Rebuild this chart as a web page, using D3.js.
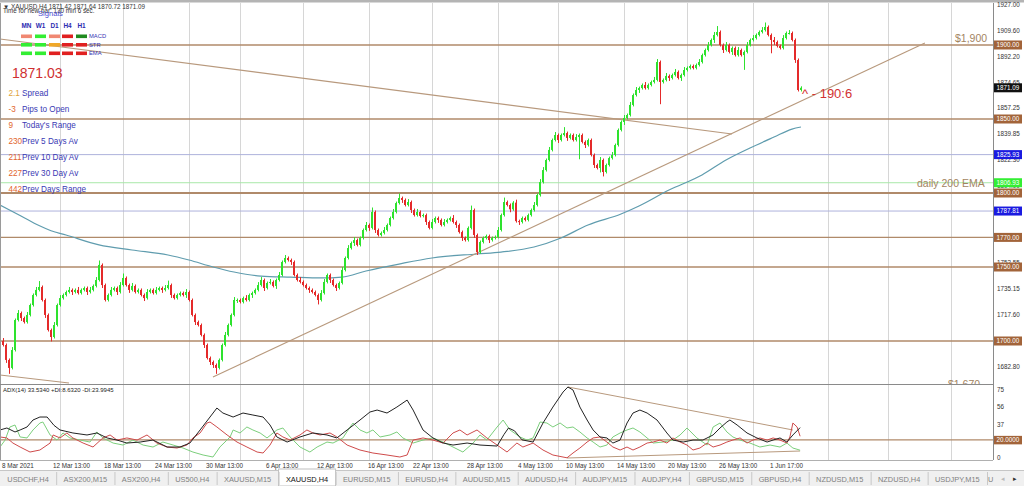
<!DOCTYPE html>
<html><head><meta charset="utf-8">
<script src="https://cdn.jsdelivr.net/npm/d3@7"></script>
<style>body{margin:0;background:#fff;overflow:hidden}svg{display:block;font-family:"Liberation Sans",Arial,sans-serif}</style>
</head><body><svg id="c" width="1024" height="486"></svg>
<script>
// ---------- DATA ----------
const firstOpen = 1700.0;
const closes = [
1697.3,1687.2,1681.8,1693.9,1714.2,1718.9,1715.5,1712.8,1717.6,1724.3,
1731.1,1734.5,1736.5,1727.7,1717.6,1707.4,1702.7,1710.8,1724.3,1729.0,
1731.1,1733.1,1734.5,1733.1,1734.5,1732.4,1734.5,1735.8,1733.1,1734.5,
1737.2,1741.2,1751.4,1737.8,1727.7,1731.1,1734.5,1735.8,1733.1,1737.8,
1742.6,1737.8,1734.5,1737.2,1733.1,1734.5,1731.1,1729.0,1733.1,1734.5,
1732.4,1734.5,1735.8,1734.5,1735.8,1737.8,1731.1,1729.0,1731.1,1732.4,
1731.1,1733.1,1727.7,1717.6,1712.8,1710.8,1704.1,1697.3,1688.5,1685.8,
1683.8,1681.8,1687.2,1697.3,1704.1,1710.8,1717.6,1727.7,1727.7,1726.4,
1729.0,1727.7,1731.1,1732.4,1734.5,1737.8,1741.2,1735.8,1739.2,1739.9,
1737.2,1741.2,1744.6,1753.4,1756.1,1754.7,1753.4,1744.6,1741.2,1739.9,
1737.8,1735.8,1734.5,1733.1,1731.1,1727.7,1732.4,1739.9,1744.6,1741.2,
1737.8,1735.8,1739.2,1748.0,1756.1,1762.8,1766.2,1768.2,1764.9,1769.6,
1775.0,1778.4,1776.4,1787.2,1775.0,1771.6,1773.0,1775.0,1778.4,1783.1,
1787.2,1793.2,1796.6,1795.3,1791.9,1793.9,1788.5,1785.1,1787.2,1784.5,
1785.1,1780.4,1776.4,1780.4,1783.1,1781.8,1778.4,1780.4,1781.8,1783.1,
1780.4,1778.4,1773.6,1769.6,1768.2,1776.4,1788.5,1771.6,1760.1,1766.9,
1769.6,1770.9,1768.2,1769.6,1770.3,1775.0,1785.1,1793.9,1791.9,1789.0,
1793.5,1781.0,1780.4,1783.1,1781.8,1785.1,1788.5,1791.9,1798.6,1807.4,
1815.5,1822.3,1829.1,1835.8,1839.2,1835.8,1839.2,1840.5,1837.2,1839.2,
1835.8,1837.8,1839.2,1834.5,1832.4,1835.8,1825.7,1818.9,1816.9,1822.3,
1814.2,1818.9,1823.6,1825.7,1832.4,1842.6,1848.0,1850.7,1852.7,1859.5,
1866.2,1869.6,1870.9,1873.0,1870.9,1873.0,1875.0,1876.4,1888.5,1875.0,
1876.4,1879.1,1877.7,1879.7,1881.8,1877.7,1879.7,1883.1,1884.5,1885.8,
1884.5,1886.5,1888.5,1893.2,1896.6,1900.0,1903.4,1906.8,1908.8,1900.0,
1896.6,1900.0,1895.3,1898.0,1893.2,1896.6,1893.2,1895.3,1900.0,1903.4,
1904.7,1906.8,1908.8,1910.1,1912.2,1906.8,1903.4,1902.0,1899.3,1898.0,
1904.7,1908.1,1908.1,1903.4,1889.9,1869.6,1871.09];
const upWick = [
2,1,1,2,1,2,1,1,2,1, 1,2,4,1,1,1,1,2,1,2, 1,1,2,1,1,2,1,1,1,2, 1,2,3,1,1,1,2,1,1,2,
3,1,1,2,1,1,1,1,2,1, 1,2,1,1,2,3,1,1,1,1, 1,2,1,1,1,1,1,1,1,1, 1,1,1,1,2,1,1,2,1,1,
1,2,1,1,1,2,2,1,1,2, 1,1,2,1,2,1,1,1,1,2, 1,1,1,1,1,1,2,2,1,1, 1,1,1,2,1,2,1,2,1,1,
1,2,1,3,1,1,1,2,1,1, 2,1,3,1,1,2,1,1,2,1, 1,1,1,2,1,1,1,2,1,1, 2,1,1,1,1,1,3,1,1,1,
1,1,1,1,1,2,1,3,1,1, 1,2,1,1,1,1,1,2,1,2, 2,1,2,1,2,1,1,4,1,1, 1,2,1,1,1,1,1,1,1,2,
1,1,1,2,1,1,1,2,1,2, 1,2,1,1,2,1,1,2,2,1, 1,2,1,1,2,1,1,2,1,1, 1,1,2,1,1,2,1,2,4,1,
1,2,1,1,1,2,1,1,2,1, 2,1,1,2,3,1,1,2,1,1, 2,1,2,1,1,1,1];
const dnWick = [
1,2,4,1,1,1,2,1,1,1, 1,1,1,1,2,1,3,1,1,1, 1,1,1,2,1,1,1,1,2,1, 1,1,1,2,1,1,1,1,2,1,
1,1,2,1,1,1,1,2,1,1, 1,1,1,2,1,1,2,1,1,1, 1,2,1,1,2,1,1,2,1,2, 2,4,1,1,1,1,1,1,2,1,
1,1,1,2,1,1,1,2,1,1, 1,2,1,1,1,1,2,1,1,1, 1,1,2,1,1,3,1,1,1,2, 1,2,1,1,1,1,1,2,1,1,
1,1,2,1,2,1,1,1,1,1, 1,1,1,2,1,1,2,1,1,1, 1,2,1,1,1,2,1,1,1,1, 1,2,1,2,1,1,1,2,2,1,
1,1,2,1,1,1,1,1,1,2, 1,1,2,1,1,1,1,1,1,1, 1,1,1,1,1,2,1,1,2,1, 1,1,15,1,2,1,1,2,1,3,
3,1,1,1,1,1,1,2,1,1, 1,1,2,1,1,1,1,1,1,15, 1,1,2,1,1,1,2,1,1,1, 1,1,1,1,1,1,1,2,1,1,
2,1,1,2,1,1,1,10,1,1, 1,1,1,1,1,1,9,2,1,1, 1,1,1,1,2,1,1];

const emaBars   = [-1,6,12,16,21,32,43,55,62,70,77,86,96,106,113,121,132,143,158,166,177,186,195,206,212,222,233,241,249,257,263,266];
const emaValues = [1791.9,1784.5,1778.0,1774.5,1771.6,1764.9,1761.5,1758.1,1754.7,1750.0,1746.6,1743.9,1743.2,1742.6,1743.2,1747.3,1752.0,1756.1,1758.8,1760.1,1763.5,1769.6,1778.4,1785.8,1791.2,1802.0,1812.2,1822.3,1830.4,1837.8,1843.2,1844.6];

// trendlines: [bar1, price1, bar2, price2]
const priceTrendlines = [[-1,1904.1,243,1839.9],[70,1675.7,307.3,1901.4],[-1,1677.0,22,1671.6]];
const levelPrices = [1900,1850,1800,1770,1750,1700];
const infoLinePrices = [1825.93,1806.93,1787.81];
const infoLineColors = ["#aeb2dc","#a8e8a8","#aeb2dc"];

const priceTicks = [1927.00,1909.60,1892.20,1874.65,1857.25,1839.85,1822.30,1804.90,1787.50,1769.95,1752.55,1735.15,1717.60,1700.20,1682.80];
const markerPrices = [1900.00,1871.09,1850.00,1825.93,1806.93,1800.00,1787.81,1770.00,1750.00,1700.00];
const markerFills  = ["#a2643a","#111111","#a2643a","#1a1ae0","#33ee33","#a2643a","#1a1ae0","#a2643a","#a2643a","#a2643a"];

const xTickLabels = ["8 Mar 2021","12 Mar 13:00","18 Mar 13:00","24 Mar 13:00","30 Mar 13:00","6 Apr 13:00","12 Apr 13:00","16 Apr 13:00","22 Apr 13:00","28 Apr 13:00","4 May 13:00","10 May 13:00","14 May 13:00","20 May 13:00","26 May 13:00","1 Jun 17:00"];
const xTickBars = [0,17,34,51,68,88,105,122,137,155,172,188,205,222,239,256];
const gridBars = [19,40,62,79,100,122,143,165,185,207,228,250,275,295,316];

const adxSeries = [[-1,30.9],[1.3,33.1],[4,28.7],[5.7,30.9],[8,34.2],[10,41.9],[12.3,45.2],[14.7,45.2],[17,36.0],[19,30.9],[23.3,27.6],[28,25.4],[31.3,27.6],[34.7,22.1],[38,19.8],[41.3,16.5],[45.7,17.6],[50,19.8],[54.7,12.1],[59,12.1],[62.3,16.5],[65.7,30.9],[69,45.2],[71.3,55.1],[73.3,49.6],[76.7,45.2],[80,49.6],[83.3,47.4],[86.7,45.2],[89,36.4],[91.3,23.2],[94.7,17.6],[99,23.2],[103.3,27.6],[108,25.4],[111.3,22.1],[114.7,30.9],[119,41.9],[122.3,50.7],[124.7,52.9],[128,49.6],[131.3,56.2],[134.7,63.9],[136.7,52.9],[140,30.9],[143.3,22.1],[146.7,16.5],[150,14.3],[154.7,16.5],[159,14.3],[164.7,13.2],[167,26.0],[168.5,33.1],[170.5,30.0],[173,20.0],[176.7,17.6],[180,38.6],[183.3,56.2],[186.7,72.8],[188.3,78.3],[190,75.0],[192.3,56.2],[194.7,41.9],[196.7,30.9],[199,23.2],[201.3,22.1],[203.3,16.5],[205.7,19.8],[208,38.6],[210,49.6],[212.3,52.9],[214.7,49.6],[218,41.9],[221.3,27.6],[223.3,19.8],[226.7,17.6],[230,19.8],[233.3,19.8],[236.7,25.4],[239,33.1],[241.3,39.7],[242.3,41.9],[244.7,36.4],[248,27.6],[251.3,22.1],[254.7,17.6],[256.7,19.8],[259,22.1],[261.3,17.6],[263.3,25.4],[265.7,33.5]];
const plusDI = [[-1,12.1],[0.7,19.8],[2.3,34.2],[4,36.4],[5.7,23.2],[8,22.1],[10,30.9],[12.3,38.6],[13.3,39.7],[15.7,25.4],[18,19.8],[20,27.6],[22.3,22.1],[25.7,19.8],[29,17.6],[31.3,28.7],[33.3,22.1],[36.7,16.5],[40,14.3],[43.3,19.8],[46.7,14.3],[50,12.1],[53.3,17.6],[56.7,14.3],[60,11.0],[63.3,6.6],[66.7,3.3],[70,1.1],[72.3,12.1],[75.7,23.2],[76.7,30.9],[79,27.6],[81.3,34.2],[83.3,30.9],[85.7,27.6],[88,22.1],[91.3,30.9],[93.3,33.1],[95.7,23.2],[99,12.1],[102.3,6.6],[104.7,12.1],[108,17.6],[110,16.5],[113.3,22.1],[115.7,34.2],[116.7,38.6],[119,30.9],[121.3,27.6],[123.3,30.9],[125.7,23.2],[129,25.4],[131.3,28.7],[133.3,22.1],[136.7,16.5],[140,19.8],[143.3,22.1],[146.7,17.6],[150,12.1],[153.3,6.6],[156.7,16.5],[159,25.4],[161.3,19.8],[164.7,34.2],[166.7,41.9],[169,30.9],[172.3,23.2],[174.7,19.8],[176.7,22.1],[179,39.7],[181.3,38.6],[183.3,34.2],[185.7,38.6],[188,33.1],[190,34.2],[192.3,28.7],[194.7,22.1],[196.7,17.6],[199,12.1],[201.3,14.3],[203.3,23.2],[205.7,27.6],[208,30.9],[210,33.1],[212.3,28.7],[214.7,22.1],[216.7,16.5],[220,17.6],[223.3,19.8],[225.7,25.4],[228,33.1],[231.3,22.1],[234.7,14.3],[236.7,34.2],[239,38.6],[241.3,28.7],[243.3,23.2],[245.7,19.8],[249,16.5],[252.3,12.1],[255.7,14.3],[259,12.1],[261.3,16.5],[263.3,11.0],[265.7,8.6]];
const minusDI = [[-1,23.2],[1.3,22.1],[3.3,16.5],[5.7,12.1],[9,6.6],[12.3,8.8],[15.7,16.5],[16.7,25.4],[19,22.1],[21.3,27.6],[23.3,22.1],[26.7,16.5],[30,12.1],[33.3,22.1],[35.7,25.4],[38,19.8],[41.3,22.1],[44.7,19.8],[48,25.4],[51.3,16.5],[54.7,12.1],[58,11.0],[61.3,14.3],[63.3,22.1],[65.7,27.6],[68,38.6],[69,39.7],[71.3,34.2],[74.7,25.4],[78,17.6],[81.3,12.1],[84.7,6.6],[86.7,5.5],[89,14.3],[91.3,27.6],[93.3,23.2],[95.7,19.8],[99,25.4],[101.3,30.9],[103.3,27.6],[105.7,25.4],[109,27.6],[111.3,23.2],[114.7,14.3],[119,8.8],[123.3,5.5],[128,3.3],[132.3,1.1],[134.7,3.3],[136.7,19.8],[140,22.1],[143.3,19.8],[146.7,16.5],[150,27.6],[152.3,30.9],[154.7,25.4],[158,30.9],[161.3,22.1],[164.7,14.3],[168,6.6],[171.3,16.5],[173.3,12.1],[176.7,16.5],[180,8.8],[183.3,3.3],[188,0.2],[190,5.5],[192.3,11.0],[194.7,17.6],[196.7,22.1],[199,23.2],[201.3,17.6],[203.3,12.1],[205.7,8.8],[208,12.1],[210,8.8],[212.3,12.1],[214.7,16.5],[216.7,17.6],[219,19.8],[221.3,16.5],[223.3,22.1],[225.7,17.6],[228,14.3],[230,8.8],[232.3,11.0],[234.7,16.5],[236.7,12.1],[239,14.3],[241.3,17.6],[243.3,19.8],[245.7,22.1],[248,16.5],[250,19.8],[252.3,22.1],[254.7,19.8],[256.7,22.1],[259,19.8],[261.3,16.5],[262.3,23.2],[263.3,38.6],[264.7,34.2],[265.7,24.0]];
const adxTrendlines = [[188.3,78.3,263.3,30.9],[188,0.0,265.7,7.7]];
const adxLevel = 20;
const adxTicks = [75,56,37,18,0];

const infoNums = ["2.1","-3","9","230","211","227","442"];
const infoNumColors = ["#e0a33a","#e2662c","#e2662c","#e2662c","#e2662c","#e2662c","#e2662c"];
const infoLabels = ["Spread","Pips to Open","Today's Range","Prev 5 Days Av","Prev 10 Day Av","Prev 30 Day Av","Prev Days Range"];
const signalCols = ["MN","W1","D1","H4","H1"];
const signalRows = ["MACD","STR","EMA"];
const signalColors = [
  ["#f08872","#33ee33","#f08872","#e02020","#1f8a1f"],
  ["#33ee33","#33ee33","#f0a828","#e02020","#e02020"],
  ["#33ee33","#33ee33","#e02020","#e02020","#e02020"]];
const tabLabels = ["USDCHF,H4","ASX200,M15","ASX200,H4","US500,H4","XAUUSD,M15","XAUUSD,H4","EURUSD,M15","EURUSD,H4","AUDUSD,M15","AUDUSD,H4","AUDJPY,M15","AUDJPY,H4","GBPUSD,M15","GBPUSD,H4","NZDUSD,M15","NZDUSD,H4","USDJPY,M15","U"];
const activeTab = 5;

// ---------- DRAW ----------
const svg = d3.select("#c");
const W=1024,H=486,R=993,mainTop=3,mainBot=384,adxTop=385,adxBot=460;
const x  = d3.scaleLinear().domain([0,330]).range([3,993]);
const y  = d3.scaleLinear().domain([1670,1927]).range([385.4,5.04]);
const ya = d3.scaleLinear().domain([0,75]).range([458,390]);
const brown="#b08a6a", tan="#b8997d";

const defs=svg.append("defs");
defs.append("clipPath").attr("id","cm").append("rect").attr("x",0).attr("y",mainTop).attr("width",R).attr("height",mainBot-mainTop);
defs.append("clipPath").attr("id","ca").append("rect").attr("x",0).attr("y",adxTop).attr("width",R).attr("height",adxBot-adxTop);

svg.append("rect").attr("width",W).attr("height",H).attr("fill","#fff");
svg.append("rect").attr("x",0).attr("y",0).attr("width",W).attr("height",2.5).attr("fill","#b4b4b4");

const gm=svg.append("g").attr("clip-path","url(#cm)");
const ga=svg.append("g").attr("clip-path","url(#ca)");

// vertical grid
[[gm,mainTop,mainBot],[ga,adxTop,adxBot]].forEach(([g,t,b])=>{
  g.selectAll(null).data(gridBars).join("line")
   .attr("x1",d=>Math.round(x(d))+0.5).attr("x2",d=>Math.round(x(d))+0.5)
   .attr("y1",t).attr("y2",b).attr("stroke","#d6d6d6").attr("stroke-width",1);
});

// info lines
gm.selectAll(null).data(infoLinePrices).join("line")
  .attr("x1",0).attr("x2",R).attr("y1",d=>y(d)).attr("y2",d=>y(d))
  .attr("stroke",(d,i)=>infoLineColors[i]).attr("stroke-width",1);
// level lines
gm.selectAll(null).data(levelPrices).join("line")
  .attr("x1",0).attr("x2",R).attr("y1",d=>y(d)).attr("y2",d=>y(d))
  .attr("stroke",brown).attr("stroke-width",d=>d===1800?1.8:1.3);

// EMA
const emaPts=emaBars.map((b,i)=>[b,emaValues[i]]);
gm.append("path").datum(emaPts)
  .attr("d",d3.line().x(d=>x(d[0])).y(d=>y(d[1])).curve(d3.curveMonotoneX))
  .attr("fill","none").attr("stroke","#5f9cae").attr("stroke-width",1.2);

// trendlines
gm.selectAll(null).data(priceTrendlines).join("line")
  .attr("x1",d=>x(d[0])).attr("y1",d=>y(d[1])).attr("x2",d=>x(d[2])).attr("y2",d=>y(d[3]))
  .attr("stroke",tan).attr("stroke-width",1.1);

// candles
const candles=closes.map((c,i)=>{const o=i===0?firstOpen:closes[i-1];
  return {i,o,c,h:Math.max(o,c)+upWick[i],l:Math.min(o,c)-dnWick[i]};});
const col=d=>d.c>=d.o?"#2ee22e":"#e42a2a";
const cg=gm.append("g");
cg.selectAll("line").data(candles).join("line")
  .attr("x1",d=>x(d.i)+0.5).attr("x2",d=>x(d.i)+0.5)
  .attr("y1",d=>y(d.h)).attr("y2",d=>y(d.l)).attr("stroke",col).attr("stroke-width",1);
cg.selectAll("rect").data(candles).join("rect")
  .attr("x",d=>x(d.i)-1).attr("width",2)
  .attr("y",d=>y(Math.max(d.o,d.c)))
  .attr("height",d=>Math.max(1,y(Math.min(d.o,d.c))-y(Math.max(d.o,d.c))))
  .attr("fill",col);

// chart texts
const lvlFont="10.5px";
gm.append("text").attr("x",955).attr("y",y(1900)-3.5).text("$1,900").attr("font-size",lvlFont).attr("fill","#a3845f");
gm.append("text").attr("x",917).attr("y",y(1800)-6).text("daily 200 EMA").attr("font-size",lvlFont).attr("fill","#a3845f");
gm.append("text").attr("x",948).attr("y",y(1670)+2.6).text("$1,670").attr("font-size",lvlFont).attr("fill","#a3845f");
gm.append("text").attr("x",802).attr("y",y(closes[closes.length-1])+10).text("^ - 190:6").attr("font-size","13px").attr("fill","#d23232");

// header
svg.append("text").attr("x",3).attr("y",8.5).text("▼ XAUUSD,H4  1871.42 1871.64 1870.72 1871.09").attr("font-size","6.3px").attr("fill","#333");
svg.append("text").attr("x",3).attr("y",13).text("Time for new bar: 130 min 6 sec.").attr("font-size","6.3px").attr("fill","#333");
svg.append("text").attr("x",38).attr("y",16).text("Signals").attr("font-size","7.6px").attr("fill","#4c4cd2");
const sigX=[21,35,49,62,76];
svg.selectAll(null).data(signalCols).join("text")
  .attr("x",(d,i)=>sigX[i]+5.5).attr("y",27.5).attr("text-anchor","middle").text(d=>d)
  .attr("font-size","6.4px").attr("font-weight","bold").attr("fill","#2a2ab0");
signalRows.forEach((r,ri)=>{
  const yy=34.5+ri*8.5;
  svg.selectAll(null).data(signalColors[ri]).join("rect")
    .attr("x",(d,i)=>sigX[i]).attr("y",yy).attr("width",11).attr("height",3.6).attr("fill",d=>d);
  svg.append("text").attr("x",89).attr("y",yy+3.8).text(r).attr("font-size","5.8px").attr("fill","#3434b4");
});
svg.append("text").attr("x",12).attr("y",78).text("1871.03").attr("font-size","14px").attr("fill","#d03030");
infoLabels.forEach((lab,i)=>{
  const by=95.6+i*16;
  const t=svg.append("text").attr("y",by).attr("font-size","8.2px");
  t.append("tspan").attr("x",8.5).text(infoNums[i]).attr("fill",infoNumColors[i]);
  t.append("tspan").attr("x",22).text(lab).attr("fill","#3a3ab4");
});

// panel borders
svg.append("line").attr("x1",0.5).attr("x2",0.5).attr("y1",mainTop).attr("y2",adxBot).attr("stroke","#9a9a9a");
svg.append("line").attr("x1",0).attr("x2",R).attr("y1",384.5).attr("y2",384.5).attr("stroke","#8a8a8a");
svg.append("line").attr("x1",0).attr("x2",R).attr("y1",460.5).attr("y2",460.5).attr("stroke","#b0b0b0");
svg.append("line").attr("x1",R+0.5).attr("x2",R+0.5).attr("y1",mainTop).attr("y2",adxBot).attr("stroke","#8a8a8a");

// price axis
svg.selectAll(null).data(priceTicks).join("text")
  .attr("x",997).attr("y",d=>y(d)+2.2).text(d=>d.toFixed(2))
  .attr("font-size","6.3px").attr("fill","#333");
const mk=svg.selectAll(null).data(markerPrices).join("g");
mk.append("rect").attr("x",R+1).attr("y",d=>y(d)-4.5).attr("width",28).attr("height",9).attr("fill",(d,i)=>markerFills[i]);
mk.append("text").attr("x",R+15).attr("y",d=>y(d)+2.2).attr("text-anchor","middle").text(d=>d.toFixed(2))
  .attr("font-size","6.3px").attr("fill","#fff");

// ADX panel
ga.append("line").attr("x1",0).attr("x2",R).attr("y1",ya(adxLevel)).attr("y2",ya(adxLevel)).attr("stroke",brown).attr("stroke-width",1.2);
ga.selectAll(null).data(adxTrendlines).join("line")
  .attr("x1",d=>x(d[0])).attr("y1",d=>ya(d[1])).attr("x2",d=>x(d[2])).attr("y2",d=>ya(d[3]))
  .attr("stroke",tan).attr("stroke-width",1);
const al=d3.line().x(d=>x(d[0])).y(d=>ya(d[1]));
ga.append("path").datum(plusDI).attr("d",al).attr("fill","none").attr("stroke","#7ccf7c").attr("stroke-width",1);
ga.append("path").datum(minusDI).attr("d",al).attr("fill","none").attr("stroke","#cf4b4b").attr("stroke-width",1);
ga.append("path").datum(adxSeries).attr("d",al).attr("fill","none").attr("stroke","#222").attr("stroke-width",1);
svg.append("text").attr("x",3).attr("y",392).text("ADX(14) 33.5340 +DI:8.6320 -DI:23.9945").attr("font-size","6px").attr("fill","#222");
svg.selectAll(null).data(adxTicks).join("text")
  .attr("x",997).attr("y",d=>ya(d)+2.2).text(d=>d).attr("font-size","6.3px").attr("fill","#333");
svg.append("rect").attr("x",R+1).attr("y",ya(adxLevel)-4).attr("width",28).attr("height",8.5).attr("fill","#a2643a");
svg.append("text").attr("x",R+15).attr("y",ya(adxLevel)+2.2).attr("text-anchor","middle").text(adxLevel.toFixed(4)).attr("font-size","6.3px").attr("fill","#fff");

// x axis labels
svg.selectAll(null).data(xTickLabels).join("text")
  .attr("x",(d,i)=>x(xTickBars[i])-1).attr("y",467.5).text(d=>d)
  .attr("font-size","6.3px").attr("fill","#333");

// tabs
const tb=svg.append("g");
tb.append("rect").attr("x",0).attr("y",470).attr("width",W).attr("height",16).attr("fill","#f0f0f0");
tb.append("line").attr("x1",0).attr("x2",W).attr("y1",470.5).attr("y2",470.5).attr("stroke","#c6c6c6");
const tabTexts=tabLabels.map((lab,i)=>tb.append("text").attr("y",481.5).attr("font-size","7.4px").text(lab)
    .attr("fill",i===activeTab?"#111":"#808080"));
const tw=tabTexts.map(t=>t.node().getComputedTextLength());
const nFull=tabLabels.length-1;
const lastSep=987;
const pad=(lastSep-d3.sum(tw.slice(0,nFull)))/nFull;
let tx=0;
tabTexts.forEach((t,i)=>{
  const w=i<nFull?tw[i]+pad:tw[i]+8;
  if(i===activeTab){
    tb.insert("rect","text").attr("x",tx).attr("y",469).attr("width",w).attr("height",17)
      .attr("fill","#fff").attr("stroke","#c0c0c0");
  }
  t.attr("x",i<nFull?tx+w/2:tx+1).attr("text-anchor",i<nFull?"middle":"start");
  if(i<nFull) tb.append("line").attr("x1",tx+w+0.5).attr("x2",tx+w+0.5).attr("y1",472).attr("y2",485).attr("stroke","#c8c8c8");
  tx+=w;
});
tb.append("text").attr("x",1001).attr("y",481).text("◂").attr("font-size","7px").attr("fill","#bbb");
tb.append("text").attr("x",1013).attr("y",481).text("▸").attr("font-size","7px").attr("fill","#333");
</script></body></html>
